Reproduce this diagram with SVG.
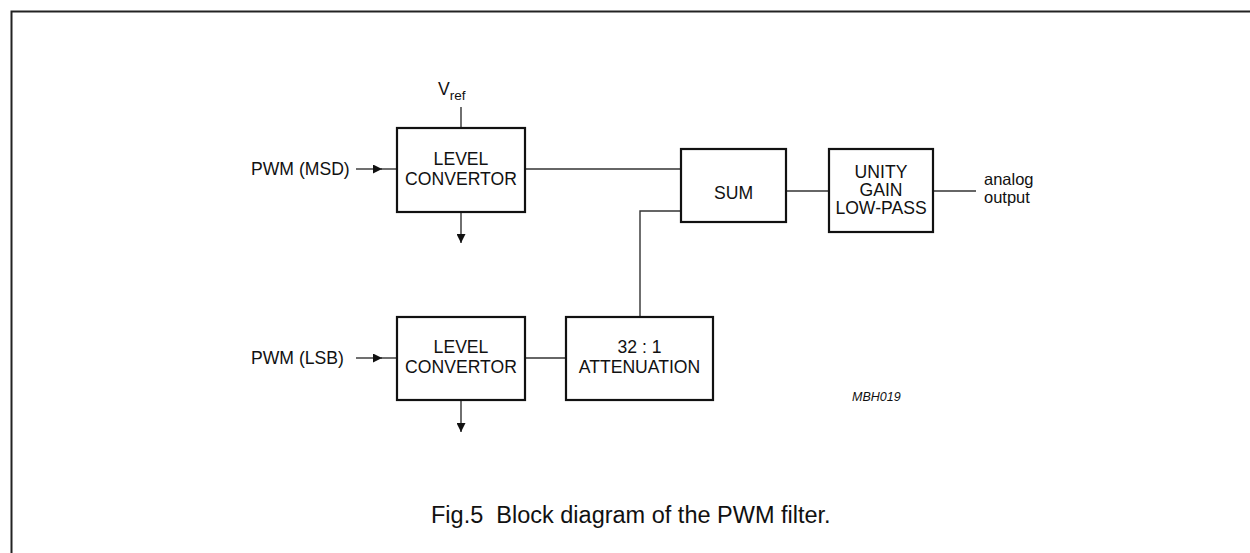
<svg xmlns="http://www.w3.org/2000/svg" width="1250" height="553" viewBox="0 0 1250 553">
<defs>
<style>
.box{fill:#fff;stroke:#111;stroke-width:2.2}
.ln{fill:none;stroke:#333;stroke-width:1.4}
text{font-family:"Liberation Sans",Arial,sans-serif;font-size:17.6px;fill:#111}
.c{text-anchor:middle}
.it{font-style:italic;font-size:12.5px}
.cap{font-size:23.5px}
.sm{font-size:16.5px}
</style>
<marker id="ah" viewBox="0 0 10 10" refX="10" refY="5" markerWidth="9" markerHeight="9" markerUnits="userSpaceOnUse" orient="auto">
<path d="M0,0 L10,5 L0,10 z" fill="#111"/>
</marker>
</defs>
<rect width="1250" height="553" fill="#fff"/>
<path d="M11.5,553 V11.5 H1250" fill="none" stroke="#222" stroke-width="2"/>
<g id="connectors">
<line class="ln" x1="461" y1="107" x2="461" y2="128"/>
<line class="ln" x1="356" y1="169" x2="382" y2="169" marker-end="url(#ah)"/>
<line class="ln" x1="380" y1="169" x2="397" y2="169"/>
<line class="ln" x1="461" y1="212" x2="461" y2="243" marker-end="url(#ah)"/>
<line class="ln" x1="525" y1="169" x2="681" y2="169"/>
<polyline class="ln" points="640,317 640,211 681,211"/>
<line class="ln" x1="786" y1="191" x2="829" y2="191"/>
<line class="ln" x1="933" y1="191" x2="976" y2="191"/>
<line class="ln" x1="356" y1="358" x2="382" y2="358" marker-end="url(#ah)"/>
<line class="ln" x1="380" y1="358" x2="397" y2="358"/>
<line class="ln" x1="461" y1="400" x2="461" y2="432" marker-end="url(#ah)"/>
<line class="ln" x1="525" y1="358" x2="566" y2="358"/>
</g>
<g id="vref">
<text x="438" y="95">V<tspan font-size="13.5" dy="5">ref</tspan></text>
</g>
<g id="in-msd"><text x="251" y="175">PWM (MSD)</text></g>
<g id="in-lsb"><text x="251" y="364">PWM (LSB)</text></g>
<g id="lc-top">
<rect class="box" x="397" y="128" width="128" height="84"/>
<text class="c" x="461" y="165">LEVEL</text>
<text class="c" x="461" y="185">CONVERTOR</text>
</g>
<g id="sum">
<rect class="box" x="681" y="149" width="105" height="73"/>
<text class="c" x="733.5" y="199">SUM</text>
</g>
<g id="lowpass">
<rect class="box" x="829" y="149" width="104" height="83"/>
<text class="c" x="881" y="178">UNITY</text>
<text class="c" x="881" y="196">GAIN</text>
<text class="c" x="881" y="214">LOW-PASS</text>
</g>
<g id="output">
<text class="sm" x="984" y="185">analog</text>
<text class="sm" x="984" y="203">output</text>
</g>
<g id="lc-bottom">
<rect class="box" x="397" y="317" width="128" height="83"/>
<text class="c" x="461" y="353">LEVEL</text>
<text class="c" x="461" y="373">CONVERTOR</text>
</g>
<g id="atten">
<rect class="box" x="566" y="317" width="147" height="83"/>
<text class="c" x="639.5" y="353">32 : 1</text>
<text class="c" x="639.5" y="373">ATTENUATION</text>
</g>
<text class="it" x="852" y="401">MBH019</text>
<text class="cap" x="431" y="523" xml:space="preserve">Fig.5  Block diagram of the PWM filter.</text>
</svg>
